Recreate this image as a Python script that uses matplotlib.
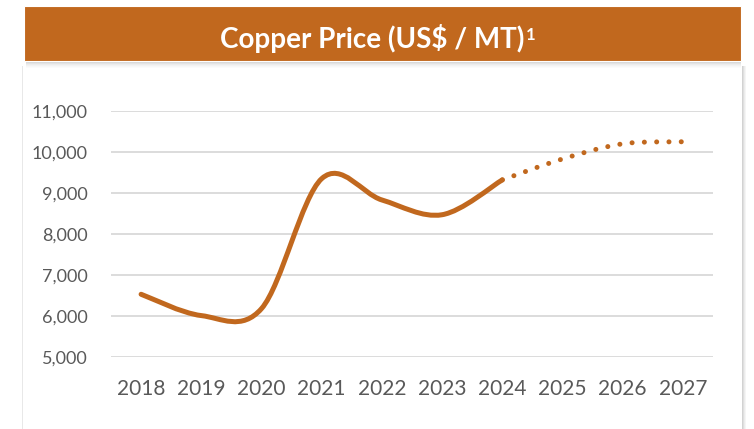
import numpy as np
import matplotlib.pyplot as plt
from matplotlib.path import Path
from matplotlib.patches import PathPatch, Rectangle

# Copper price, US$ per metric tonne
years = [2018, 2019, 2020, 2021, 2022, 2023, 2024, 2025, 2026, 2027]
actual_years = [2018, 2019, 2020, 2021, 2022, 2023, 2024]
actual_price = [6530, 6010, 6180, 9350, 8830, 8470, 9320]
forecast_years = [2024, 2025, 2026, 2027]
forecast_price = [9320, 9830, 10200, 10250]
y_ticks = [5000, 6000, 7000, 8000, 9000, 10000, 11000]

COPPER = '#C1681E'
GRID = '#D9D9D9'
LABEL = '#595959'
FONT = ['Lato', 'DejaVu Sans']

W, H = 754, 429


def smooth_path(xs, ys):
    """Cubic Bezier path through the points (Excel-style smoothed line)."""
    pts = np.column_stack([xs, ys]).astype(float)
    n = len(pts)
    verts = [pts[0]]
    codes = [Path.MOVETO]
    for i in range(n - 1):
        p0 = pts[max(i - 1, 0)]
        p1 = pts[i]
        p2 = pts[i + 1]
        p3 = pts[min(i + 2, n - 1)]
        verts += [p1 + (p2 - p0) / 6, p2 - (p3 - p1) / 6, p2]
        codes += [Path.CURVE4] * 3
    return Path(verts, codes)


def px_rect(x0, y0, x1, y1, **kw):
    # rectangle given in pixel coords measured from the top-left corner
    return Rectangle((x0 / W, 1 - y1 / H), (x1 - x0) / W, (y1 - y0) / H,
                     transform=fig.transFigure, **kw)


fig = plt.figure(figsize=(W / 100, H / 100), dpi=100)
fig.patch.set_facecolor('white')

# panel shadow on the right and under the header
for k, a in enumerate([0.35, 0.25, 0.15, 0.08]):
    fig.patches.append(px_rect(742 + k, 66, 743 + k, H, facecolor='#808080',
                               alpha=a, edgecolor='none'))
for k, a in enumerate([0.40, 0.30, 0.22, 0.15, 0.10, 0.06, 0.03]):
    fig.patches.append(px_rect(26, 61 + k, 741, 62 + k, facecolor='#808080',
                               alpha=a, edgecolor='none'))
fig.patches.append(px_rect(22, 66, 23, H, facecolor='#E8E8E8', edgecolor='none'))

# header bar
fig.patches.append(px_rect(24, 6, 741, 61, facecolor=COPPER,
                           edgecolor='white', linewidth=0.8))
title = fig.text(0.494, 1 - 48 / H, 'Copper Price (US$ / MT)', color='white',
                 fontsize=20, fontweight='bold', family=FONT,
                 ha='center', va='baseline')
fig.add_artist(plt.Annotation('1', xy=(1.0, 0.9), xycoords=title,
                              xytext=(0.8, 0), textcoords='offset points',
                              color='white', fontsize=12, fontweight='bold',
                              family=FONT, ha='left', va='top'))

ax = fig.add_axes([111 / W, (H - 357) / H, 602 / W, 246 / H])
ax.set_xlim(2017.5, 2027.5)
ax.set_ylim(5000, 11000)

ax.add_patch(PathPatch(smooth_path(actual_years, actual_price), facecolor='none',
                       edgecolor=COPPER, linewidth=3.6, capstyle='round',
                       joinstyle='round', zorder=3))
ax.add_patch(PathPatch(smooth_path(forecast_years, forecast_price), facecolor='none',
                       edgecolor=COPPER, linewidth=3.6, capstyle='round',
                       linestyle=(0, (0.01, 2.45)), zorder=3))

ax.set_xticks(years)
ax.set_xticklabels([str(y) for y in years])
ax.set_yticks(y_ticks)
ax.set_yticklabels([f'{v:,}' for v in y_ticks])
ax.grid(axis='y', color=GRID, linewidth=1.3)
ax.set_axisbelow(True)
for s in ax.spines.values():
    s.set_visible(False)
ax.tick_params(length=0, colors=LABEL)
ax.tick_params(axis='x', labelsize=15, pad=16)
ax.tick_params(axis='y', labelsize=13, pad=17)
for lbl in ax.get_xticklabels() + ax.get_yticklabels():
    lbl.set_family(FONT)

fig.savefig('out.png', dpi=100)
